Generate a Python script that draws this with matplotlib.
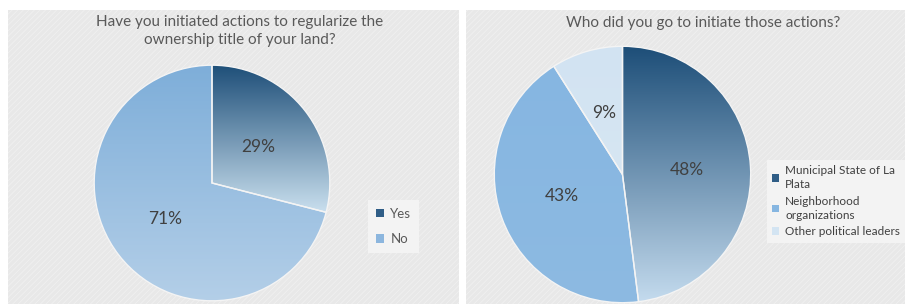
import numpy as np
import matplotlib
matplotlib.use("Agg")
import matplotlib.pyplot as plt
from matplotlib.patches import Rectangle, Patch
from matplotlib.colors import to_rgba

plt.rcParams['font.family'] = ['Lato', 'DejaVu Sans']
plt.rcParams['hatch.linewidth'] = 0.6

# ---- data ----
title_left = "Have you initiated actions to regularize the\nownership title of your land?"
cats_left = ["Yes", "No"]
vals_left = [29, 71]

title_right = "Who did you go to initiate those actions?"
cats_right = ["Municipal State of La\nPlata", "Neighborhood\norganizations", "Other political leaders"]
vals_right = [48, 43, 9]

# (top colour, bottom colour) gradient per slice
grad_left = [("#1d4e78", "#c9dfee"), ("#7eaed9", "#b4cfe8")]
grad_right = [("#1d4e78", "#c4dbee"), ("#86b6e1", "#8dbae2"), ("#d2e3f2", "#d6e6f3")]
legend_left_cols = ["#2f5d86", "#8cb6de"]
legend_right_cols = ["#2f5d86", "#86b6e1", "#d3e4f2"]

W, H = 905, 304
fig = plt.figure(figsize=(W / 100, H / 100), dpi=100)
fig.patch.set_facecolor("white")


def px_axes(x0, y0, w, h):
    return fig.add_axes([x0 / W, (H - y0 - h) / H, w / W, h / H])


def panel(x0, y0, w, h):
    ax = px_axes(x0, y0, w, h)
    ax.set_xlim(0, 1)
    ax.set_ylim(0, 1)
    ax.axis("off")
    ax.add_patch(Rectangle((0, 0), 1, 1, facecolor="#e8e8e8", edgecolor="#f0f0f0",
                           hatch="//////", linewidth=0, transform=ax.transAxes))
    return ax


def grad_pie(ax, vals, grads):
    wedges, texts, autotexts = ax.pie(
        vals, startangle=90, counterclock=False, radius=1.0,
        autopct=lambda p: f"{p:.0f}%", pctdistance=0.5,
        wedgeprops=dict(edgecolor="#f4f4f4", linewidth=1.0),
        textprops=dict(fontsize=12.5, color="#404040"))
    for w, (top, bot) in zip(wedges, grads):
        verts = w.get_path().vertices
        ymin, ymax = verts[:, 1].min(), verts[:, 1].max()
        xmin, xmax = verts[:, 0].min(), verts[:, 0].max()
        n = 256
        t = np.linspace(0, 1, n)[:, None]
        c0 = np.array(to_rgba(bot))
        c1 = np.array(to_rgba(top))
        img = (c0[None, :] * (1 - t) + c1[None, :] * t)[:, None, :]
        im = ax.imshow(img, extent=[xmin, xmax, ymin, ymax], origin="lower",
                       aspect="auto", zorder=1, interpolation="bilinear")
        im.set_clip_path(w)
        w.set_facecolor("none")
        w.set_zorder(2)
    for a in autotexts:
        a.set_zorder(3)
    ax.set_xlim(-1.01, 1.01)
    ax.set_ylim(-1.01, 1.01)
    ax.set_aspect("equal")
    ax.axis("off")
    return wedges


# ---- left panel ----
pl = panel(8, 10, 451, 294)
pl.text((240 - 8) / 451, 1 - (15 - 10) / 294, title_left, ha="center", va="top", fontsize=11,
        color="#595959", linespacing=1.4, transform=pl.transAxes)
axl = px_axes(93, 64, 238, 238)
grad_pie(axl, vals_left, grad_left)
hl = [Patch(facecolor=c, edgecolor="none") for c in legend_left_cols]
pl.legend(hl, cats_left, loc="upper left", bbox_to_anchor=((368 - 8) / 451, 1 - (200 - 10) / 294),
          frameon=True, facecolor="#f3f3f3", edgecolor="none", framealpha=1,
          fontsize=9.5, labelcolor="#595959", handlelength=0.6, handleheight=0.6,
          handletextpad=0.5, labelspacing=1.0, borderpad=0.6, borderaxespad=0,
          fancybox=False)

# ---- right panel ----
pr = panel(466, 10, 439, 294)
pr.text((703.5 - 466) / 439, 1 - (16 - 10) / 294, title_right, ha="center", va="top", fontsize=11,
        color="#595959", transform=pr.transAxes)
axr = px_axes(493, 45, 259, 259)
grad_pie(axr, vals_right, grad_right)
hr = [Patch(facecolor=c, edgecolor="none") for c in legend_right_cols]
leg = pr.legend(hr, cats_right, loc="upper left",
                bbox_to_anchor=((767 - 466) / 439, 1 - (160 - 10) / 294),
                frameon=True, facecolor="#f3f3f3", edgecolor="none", framealpha=1,
                fontsize=8.5, labelcolor="#404040", handlelength=0.6, handleheight=0.6,
                handletextpad=0.5, labelspacing=0.45, borderpad=0.45, borderaxespad=0,
                fancybox=False)
for t in leg.get_texts():
    t.set_linespacing(1.35)

fig.savefig("out.png", dpi=100, facecolor="white")
